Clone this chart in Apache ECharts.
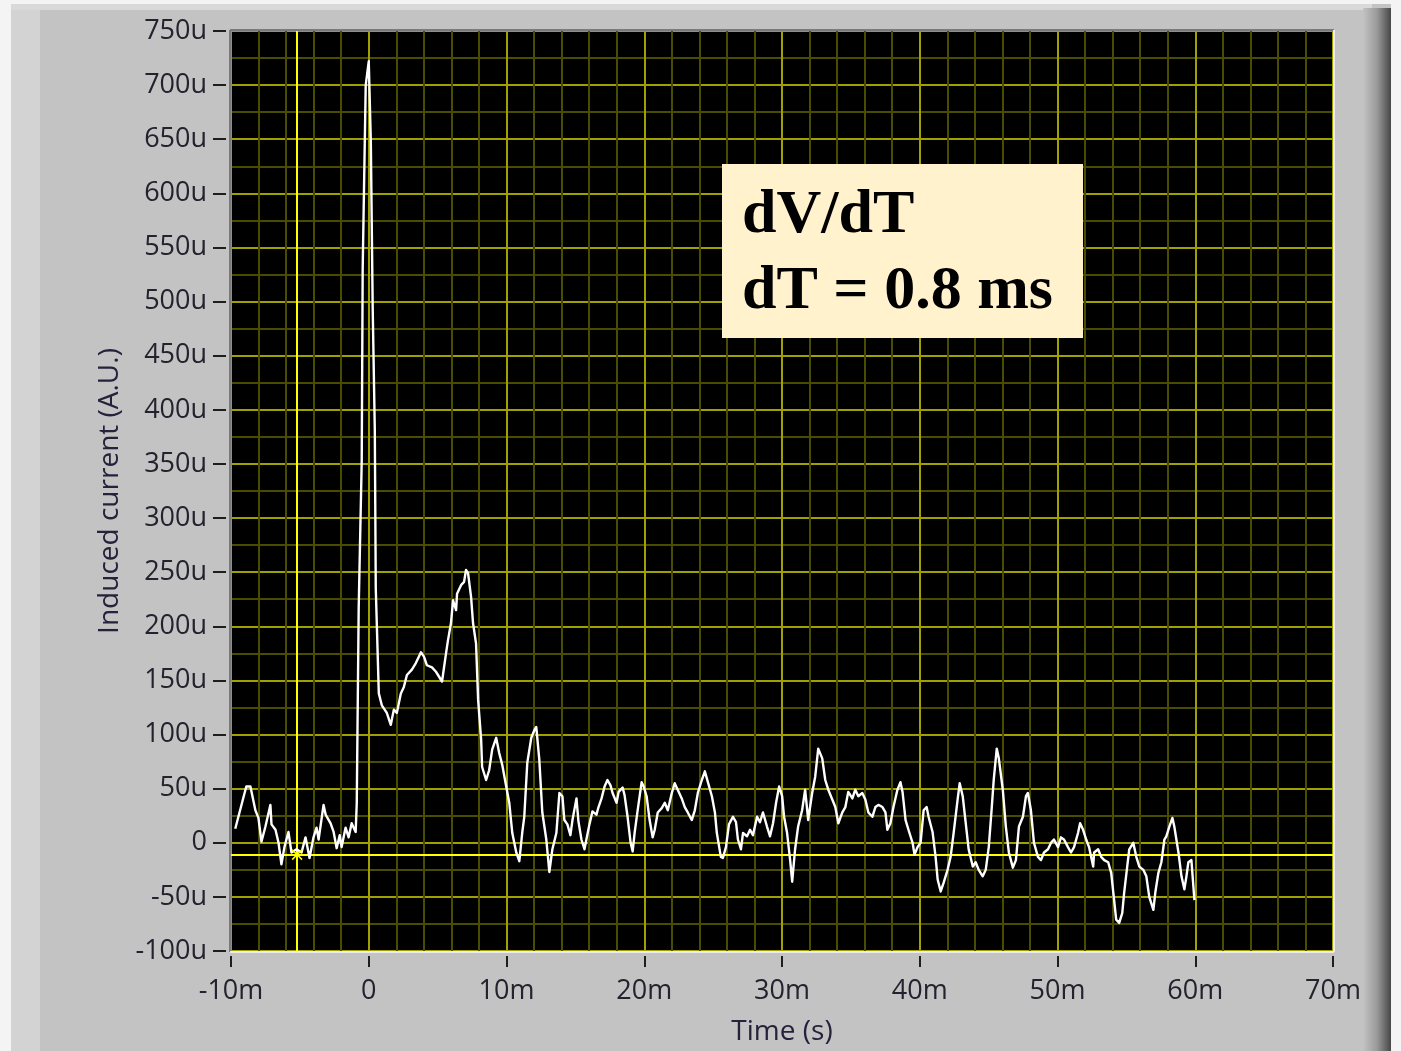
<!DOCTYPE html>
<html>
<head>
<meta charset="utf-8">
<style>
html,body{margin:0;padding:0;background:#c3c3c3;}
#chart{width:1401px;height:1051px;}
</style>
<script src="https://cdn.jsdelivr.net/npm/echarts@6/dist/echarts.min.js"></script>
</head>
<body>
<div id="chart"></div>
<script>
// Time in ms
const timeMs = [
-9.69,-8.89,-8.59,-8.23,-8.01,-7.79,-7.50,-7.14,-7.06,-6.77,-6.55,-6.34,-6.12,-5.83,-5.61,-5.24,-4.88,-4.59,-4.30,-4.01,
-3.79,-3.64,-3.28,-3.13,-2.77,-2.55,-2.33,-2.11,-1.97,-1.68,-1.46,-1.24,-0.95,-0.87,-0.73,-0.66,-0.51,-0.44,-0.22,0.00,
0.15,0.29,0.44,0.51,0.73,0.95,1.31,1.60,1.82,2.04,2.33,2.55,2.77,3.13,3.42,3.79,4.01,4.22,4.59,4.88,
5.32,5.61,5.75,5.97,6.12,6.34,6.41,6.70,6.92,7.06,7.21,7.43,7.57,7.79,7.94,8.16,8.23,8.52,8.74,8.96,
9.25,9.47,9.69,9.98,10.20,10.42,10.71,10.93,11.14,11.29,11.51,11.80,12.02,12.16,12.38,12.60,12.89,13.11,13.33,13.62,
13.84,14.06,14.20,14.42,14.64,14.79,15.08,15.22,15.44,15.66,15.80,16.02,16.24,16.53,16.68,16.90,17.12,17.33,17.55,17.70,
17.99,18.14,18.43,18.57,18.79,19.01,19.16,19.30,19.52,19.81,19.96,20.17,20.39,20.61,20.76,20.98,21.27,21.49,21.71,22.00,
22.21,22.43,22.72,22.94,23.16,23.45,23.67,23.89,24.18,24.40,24.62,24.91,25.13,25.27,25.56,25.71,25.93,26.15,26.44,26.66,
26.80,27.02,27.17,27.46,27.68,27.89,28.19,28.40,28.62,28.91,29.13,29.35,29.57,29.79,30.01,30.15,30.37,30.59,30.74,30.95,
31.17,31.46,31.68,31.90,32.19,32.41,32.63,32.92,33.14,33.36,33.65,33.87,34.09,34.38,34.60,34.81,35.11,35.32,35.54,35.83,
36.05,36.27,36.56,36.78,37.00,37.29,37.51,37.65,37.87,38.09,38.38,38.60,38.75,38.97,39.18,39.48,39.62,39.84,40.06,40.28,
40.50,40.64,40.93,41.15,41.30,41.52,41.73,42.02,42.24,42.46,42.75,42.90,43.12,43.34,43.55,43.85,44.06,44.28,44.57,44.79,
45.01,45.23,45.37,45.59,45.74,46.03,46.25,46.47,46.76,46.98,47.20,47.49,47.71,47.85,48.07,48.29,48.58,48.80,49.02,49.31,
49.53,49.74,50.04,50.25,50.47,50.76,50.98,51.20,51.49,51.64,51.86,52.08,52.29,52.59,52.66,52.95,53.17,53.39,53.68,53.90,
54.11,54.26,54.48,54.70,54.84,55.06,55.21,55.50,55.72,55.94,56.23,56.45,56.66,56.96,57.10,57.32,57.54,57.76,57.90,58.12,
58.34,58.48,58.63,58.78,59.00,59.21,59.36,59.50,59.72,59.94
];
// Induced current in micro units
const currentU = [
13,52,52,30,23,1,15,35,17,12,0,-20,-4,10,-9,-6,-9,5,-14,5,
14,3,35,26,18,10,-5,7,-4,14,5,18,10,37,217,217,353,531,700,722,
648,491,381,235,138,127,120,109,123,120,138,144,155,160,166,176,172,164,162,158,
149,175,187,203,224,215,230,238,241,252,249,227,203,184,132,95,70,58,67,86,
97,83,72,52,37,9,-9,-17,9,24,74,97,104,107,77,28,3,-27,-6,9,
46,43,21,17,7,21,41,20,3,-6,3,17,29,26,33,41,52,58,53,46,
37,47,51,44,24,0,-8,9,30,56,52,43,21,5,12,28,32,37,30,46,
55,49,41,33,28,21,30,46,58,66,56,43,28,9,-13,-14,-4,17,24,19,
3,-6,9,6,12,7,24,19,28,15,6,18,37,52,43,24,9,-16,-36,-6,
15,30,49,21,46,61,87,78,58,49,40,33,18,28,33,47,41,49,43,46,
40,28,24,33,35,33,28,12,18,33,49,56,47,21,12,0,-11,-4,0,30,
33,24,10,-13,-34,-45,-37,-25,-13,9,40,55,43,18,-6,-22,-18,-25,-31,-25,
-4,33,58,87,78,49,15,-9,-23,-16,15,24,43,46,30,0,-13,-16,-9,-6,
0,3,-4,5,3,-4,-9,-4,9,18,12,3,-4,-22,-9,-6,-13,-16,-18,-28,
-53,-71,-74,-65,-46,-22,-6,0,-13,-22,-25,-31,-50,-62,-46,-28,-18,3,6,15,
23,15,3,-9,-31,-43,-31,-18,-16,-53
];
// Cursor position
const cursorTime = -5.2;
const cursorCurrent = -11;
const annotationLines = ['dV/dT', 'dT = 0.8 ms'];

const traceData = timeMs.map((t, i) => [t, currentU[i]]);

const chart = echarts.init(document.getElementById('chart'), null, {renderer: 'canvas'});

const tickFont = {fontFamily: 'Open Sans', fontSize: 27, color: '#24222e'};

const option = {
  backgroundColor: '#c3c3c3',
  animation: false,
  grid: {
    left: 231, top: 31, right: 68, bottom: 100,
    show: true, backgroundColor: '#000000', borderWidth: 0
  },
  xAxis: {
    type: 'value', min: -10, max: 70, interval: 10,
    offset: 5,
    axisLine: {show: false, onZero: false},
    axisTick: {show: true, length: 11, lineStyle: {color: '#1e1e1e', width: 2}},
    axisLabel: Object.assign({margin: 22, formatter: v => v === 0 ? '0' : v + 'm'}, tickFont),
    splitLine: {show: true, lineStyle: {color: '#a0a000', width: 2}},
    minorTick: {show: false, splitNumber: 5},
    minorSplitLine: {show: true, lineStyle: {color: '#4c4c00', width: 2}},
    name: 'Time (s)', nameLocation: 'middle', nameGap: 62,
    nameTextStyle: {fontFamily: 'Open Sans', fontSize: 28, color: '#26223c'}
  },
  yAxis: {
    type: 'value', min: -100, max: 750, interval: 50,
    offset: 5,
    axisLine: {show: false, onZero: false},
    axisTick: {show: true, length: 13, lineStyle: {color: '#1e1e1e', width: 2}},
    axisLabel: Object.assign({margin: 19, formatter: v => v === 0 ? '0' : v + 'u'}, tickFont),
    splitLine: {show: true, lineStyle: {color: '#a0a000', width: 2}},
    minorTick: {show: false, splitNumber: 2},
    minorSplitLine: {show: true, lineStyle: {color: '#4c4c00', width: 2}},
    name: 'Induced current (A.U.)', nameLocation: 'middle', nameGap: 102,
    nameTextStyle: {fontFamily: 'Open Sans', fontSize: 28, color: '#26223c'}
  },
  series: [
    {
      type: 'line', data: traceData, z: 3,
      showSymbol: false, symbol: 'none',
      lineStyle: {color: '#ffffff', width: 2.4, join: 'round'},
      silent: true,
      markLine: {
        silent: true, symbol: ['none', 'none'], label: {show: false},
        lineStyle: {color: '#ffff00', width: 2, type: 'solid'},
        animation: false, z: 1,
        data: [{xAxis: cursorTime}, {yAxis: cursorCurrent}]
      },
      markPoint: {
        silent: true,
        symbol: 'path://M0,1L1,0L5,4L9,0L10,1L6,5L10,9L9,10L5,6L1,10L0,9L4,5Z',
        symbolSize: 11,
        itemStyle: {color: '#ffff00'},
        label: {show: false},
        data: [{coord: [cursorTime, cursorCurrent]}]
      }
    }
  ],
  graphic: [
    // panel frame
    {type: 'rect', z: -10, shape: {x: 0, y: 0, width: 1401, height: 4}, style: {fill: '#f4f4f4'}},
    {type: 'rect', z: -10, shape: {x: 0, y: 4, width: 1372, height: 6}, style: {fill: '#d9d9d9'}},
    {type: 'rect', z: -10, shape: {x: 0, y: 0, width: 11, height: 1051}, style: {fill: '#f4f4f4'}},
    {type: 'rect', z: -10, shape: {x: 11, y: 10, width: 29, height: 1041}, style: {fill: '#d3d3d3'}},
    {type: 'rect', z: -10, shape: {x: 1363, y: 8, width: 28, height: 1043},
      style: {fill: new echarts.graphic.LinearGradient(0, 0, 1, 0, [
        {offset: 0, color: '#c3c3c3'}, {offset: 0.5, color: '#9a9a9a'}, {offset: 1, color: '#474747'}])}},
    {type: 'rect', z: -10, shape: {x: 1391, y: 0, width: 10, height: 1051}, style: {fill: '#f4f4f4'}},
    // plot sunken border
    {type: 'line', z: 50, shape: {x1: 230, y1: 30, x2: 1334, y2: 30}, style: {stroke: '#7a7a7a', lineWidth: 2}},
    {type: 'line', z: 50, shape: {x1: 230, y1: 30, x2: 230, y2: 952}, style: {stroke: '#7a7a7a', lineWidth: 2}},
    {type: 'line', z: 50, shape: {x1: 230, y1: 952, x2: 1334, y2: 952}, style: {stroke: '#ececec', lineWidth: 2}},
    {type: 'line', z: 50, shape: {x1: 1334, y1: 30, x2: 1334, y2: 952}, style: {stroke: '#ececec', lineWidth: 2}},
    // annotation box
    {type: 'rect', z: 100, shape: {x: 722, y: 164, width: 361, height: 174}, style: {fill: '#fff2cc'}},
    {type: 'text', z: 101, x: 742, y: 216,
      style: {text: annotationLines[0], fill: '#000', font: 'bold 62px "Liberation Serif", "Times New Roman", serif', verticalAlign: 'middle'}},
    {type: 'text', z: 101, x: 742, y: 292,
      style: {text: annotationLines[1], fill: '#000', font: 'bold 62px "Liberation Serif", "Times New Roman", serif', verticalAlign: 'middle'}}
  ]
};
chart.setOption(option);
</script>
</body>
</html>
